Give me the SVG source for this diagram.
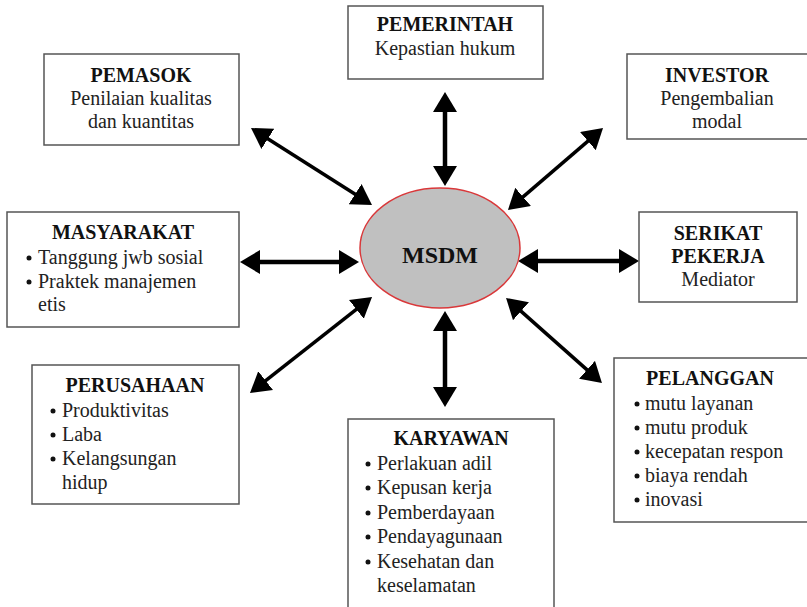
<svg xmlns="http://www.w3.org/2000/svg" width="807" height="607" viewBox="0 0 807 607">
<style>
.box{fill:#fff;stroke:#555;stroke-width:1.5}
text{font-family:"Liberation Serif","Tinos","Noto Serif","DejaVu Serif",serif;font-size:20px;font-weight:400;font-style:normal;fill:#222}
text.t{font-weight:700;fill:#111}
.c{text-anchor:middle}
.arr{stroke:#000;fill:none}
.hv{stroke-width:4.5}
.dg{stroke-width:3.5}
</style>
<defs>
<marker id="ah" markerUnits="userSpaceOnUse" markerWidth="22" markerHeight="26" refX="2" refY="12" orient="auto-start-reverse">
<path d="M0,0 L20,12 L0,24 z" fill="#000"/>
</marker>
</defs>
<rect width="807" height="607" fill="#fff"/>
<g id="connectors">
<line class="arr hv" x1="445" y1="110" x2="445" y2="168" marker-start="url(#ah)" marker-end="url(#ah)"/>
<line class="arr hv" x1="445" y1="329" x2="445" y2="389" marker-start="url(#ah)" marker-end="url(#ah)"/>
<line class="arr hv" x1="258" y1="262" x2="341" y2="262" marker-start="url(#ah)" marker-end="url(#ah)"/>
<line class="arr hv" x1="536" y1="261" x2="621" y2="261" marker-start="url(#ah)" marker-end="url(#ah)"/>
<line class="arr dg" x1="266.2" y1="137.7" x2="356.8" y2="195.3" marker-start="url(#ah)" marker-end="url(#ah)"/>
<line class="arr dg" x1="589.4" y1="139.8" x2="521.6" y2="198.2" marker-start="url(#ah)" marker-end="url(#ah)"/>
<line class="arr dg" x1="264.1" y1="381.9" x2="357.9" y2="308.1" marker-start="url(#ah)" marker-end="url(#ah)"/>
<line class="arr dg" x1="519.5" y1="309.9" x2="588.5" y2="371.1" marker-start="url(#ah)" marker-end="url(#ah)"/>
</g>
<g id="msdm">
<ellipse cx="440" cy="248" rx="80" ry="60" fill="#c0c0c0" stroke="#d9383a" stroke-width="1.5"/>
<text class="t c" x="440" y="263" style="font-size:24px">MSDM</text>
</g>
<g id="pemerintah">
<rect class="box" x="348" y="6" width="195" height="73"/>
<text class="t c" x="445" y="31">PEMERINTAH</text>
<text class="c" x="445" y="55">Kepastian hukum</text>
</g>
<g id="pemasok">
<rect class="box" x="44" y="54" width="195" height="91"/>
<text class="t c" x="141" y="82">PEMASOK</text>
<text class="c" x="141" y="105">Penilaian kualitas</text>
<text class="c" x="141" y="128">dan kuantitas</text>
</g>
<g id="investor">
<rect class="box" x="627" y="54" width="185" height="85"/>
<text class="t c" x="717" y="82">INVESTOR</text>
<text class="c" x="717" y="105">Pengembalian</text>
<text class="c" x="717" y="128">modal</text>
</g>
<g id="masyarakat">
<rect class="box" x="7" y="212" width="232" height="115"/>
<text class="t c" x="123" y="239">MASYARAKAT</text>
<circle cx="29" cy="258" r="2.5" fill="#111"/>
<text x="38" y="264">Tanggung jwb sosial</text>
<circle cx="29" cy="282" r="2.5" fill="#111"/>
<text x="38" y="288">Praktek manajemen</text>
<text x="38" y="311">etis</text>
</g>
<g id="serikat">
<rect class="box" x="639" y="212" width="158" height="90"/>
<text class="t c" x="718" y="240">SERIKAT</text>
<text class="t c" x="718" y="263">PEKERJA</text>
<text class="c" x="718" y="286">Mediator</text>
</g>
<g id="perusahaan">
<rect class="box" x="32" y="365" width="207" height="139"/>
<text class="t c" x="135" y="392">PERUSAHAAN</text>
<circle cx="53" cy="411" r="2.5" fill="#111"/>
<text x="62" y="417">Produktivitas</text>
<circle cx="53" cy="435" r="2.5" fill="#111"/>
<text x="62" y="441">Laba</text>
<circle cx="53" cy="459" r="2.5" fill="#111"/>
<text x="62" y="465">Kelangsungan</text>
<text x="62" y="489">hidup</text>
</g>
<g id="karyawan">
<rect class="box" x="348" y="419" width="206" height="190"/>
<text class="t c" x="451" y="445">KARYAWAN</text>
<circle cx="368" cy="464" r="2.5" fill="#111"/>
<text x="377" y="470">Perlakuan adil</text>
<circle cx="368" cy="488" r="2.5" fill="#111"/>
<text x="377" y="494">Kepusan kerja</text>
<circle cx="368" cy="513" r="2.5" fill="#111"/>
<text x="377" y="519">Pemberdayaan</text>
<circle cx="368" cy="537" r="2.5" fill="#111"/>
<text x="377" y="543">Pendayagunaan</text>
<circle cx="368" cy="562" r="2.5" fill="#111"/>
<text x="377" y="568">Kesehatan dan</text>
<text x="377" y="592">keselamatan</text>
</g>
<g id="pelanggan">
<rect class="box" x="614" y="358" width="200" height="164"/>
<text class="t c" x="710" y="385">PELANGGAN</text>
<circle cx="637" cy="404" r="2.5" fill="#111"/>
<text x="645" y="410">mutu layanan</text>
<circle cx="637" cy="428" r="2.5" fill="#111"/>
<text x="645" y="434">mutu produk</text>
<circle cx="637" cy="452" r="2.5" fill="#111"/>
<text x="645" y="458">kecepatan respon</text>
<circle cx="637" cy="476" r="2.5" fill="#111"/>
<text x="645" y="482">biaya rendah</text>
<circle cx="637" cy="500" r="2.5" fill="#111"/>
<text x="645" y="506">inovasi</text>
</g>
</svg>
